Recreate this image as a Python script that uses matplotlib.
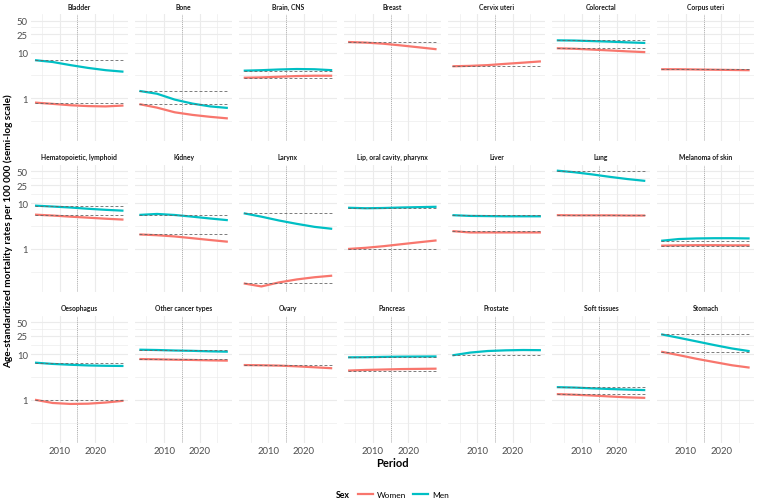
import matplotlib.pyplot as plt
import numpy as np
from matplotlib.lines import Line2D
from matplotlib.offsetbox import HPacker

plt.rcParams['font.family'] = ['Lato', 'DejaVu Sans']

# period points
years = [2003, 2008, 2013, 2018, 2023, 2028]
ref_year = 2015

# age-standardized rates, women / men (None = sex not concerned)
bladder_w = [0.80, 0.75, 0.70, 0.67, 0.66, 0.69]
bladder_m = [6.8, 6.2, 5.3, 4.6, 4.1, 3.8]
bone_w = [0.74, 0.62, 0.49, 0.43, 0.39, 0.36]
bone_m = [1.44, 1.25, 0.93, 0.76, 0.66, 0.61]
brain_w = [2.8, 2.85, 2.95, 3.05, 3.1, 3.1]
brain_m = [4.0, 4.1, 4.25, 4.35, 4.3, 4.1]
breast_w = [17.0, 16.5, 15.6, 14.3, 13.0, 11.8]
cervix_w = [5.0, 5.1, 5.3, 5.65, 6.0, 6.4]
colorectal_w = [12.4, 12.1, 11.6, 11.1, 10.6, 10.2]
colorectal_m = [18.5, 18.3, 17.8, 17.3, 16.7, 16.2]
corpus_w = [4.3, 4.3, 4.25, 4.2, 4.15, 4.1]
hemato_w = [5.65, 5.4, 5.1, 4.85, 4.6, 4.4]
hemato_m = [8.9, 8.5, 8.1, 7.6, 7.2, 6.9]
kidney_w = [2.08, 2.0, 1.88, 1.72, 1.57, 1.44]
kidney_m = [5.57, 5.85, 5.55, 5.1, 4.65, 4.27]
larynx_w = [0.176, 0.151, 0.185, 0.215, 0.24, 0.26]
larynx_m = [6.06, 5.1, 4.2, 3.55, 3.05, 2.76]
lip_w = [1.0, 1.06, 1.15, 1.27, 1.4, 1.54]
lip_m = [8.0, 7.8, 7.9, 8.1, 8.25, 8.4]
liver_w = [2.46, 2.3, 2.3, 2.3, 2.3, 2.3]
liver_m = [5.5, 5.3, 5.25, 5.2, 5.2, 5.2]
lung_w = [5.5, 5.45, 5.45, 5.45, 5.4, 5.4]
lung_m = [52, 48, 43, 38, 34, 31]
melanoma_w = [1.18, 1.2, 1.21, 1.21, 1.2, 1.2]
melanoma_m = [1.51, 1.65, 1.7, 1.72, 1.72, 1.70]
oesophagus_w = [1.0, 0.85, 0.81, 0.82, 0.87, 0.95]
oesophagus_m = [6.5, 6.1, 5.85, 5.65, 5.55, 5.5]
other_w = [7.8, 7.7, 7.55, 7.45, 7.3, 7.2]
other_m = [12.5, 12.3, 12.0, 11.8, 11.5, 11.3]
ovary_w = [5.76, 5.7, 5.6, 5.4, 5.15, 4.9]
pancreas_w = [4.36, 4.5, 4.6, 4.7, 4.75, 4.8]
pancreas_m = [8.5, 8.55, 8.7, 8.8, 8.85, 8.9]
prostate_m = [9.4, 10.8, 11.7, 12.1, 12.3, 12.2]
soft_w = [1.33, 1.29, 1.24, 1.18, 1.13, 1.1]
soft_m = [1.89, 1.85, 1.78, 1.72, 1.67, 1.63]
stomach_w = [11.3, 9.5, 7.9, 6.7, 5.7, 5.06]
stomach_m = [27.2, 22.8, 19.0, 15.8, 13.3, 11.6]

panels = [
    ('Bladder', bladder_w, bladder_m),
    ('Bone', bone_w, bone_m),
    ('Brain, CNS', brain_w, brain_m),
    ('Breast', breast_w, None),
    ('Cervix uteri', cervix_w, None),
    ('Colorectal', colorectal_w, colorectal_m),
    ('Corpus uteri', corpus_w, None),
    ('Hematopoietic, lymphoid', hemato_w, hemato_m),
    ('Kidney', kidney_w, kidney_m),
    ('Larynx', larynx_w, larynx_m),
    ('Lip, oral cavity, pharynx', lip_w, lip_m),
    ('Liver', liver_w, liver_m),
    ('Lung', lung_w, lung_m),
    ('Melanoma of skin', melanoma_w, melanoma_m),
    ('Oesophagus', oesophagus_w, oesophagus_m),
    ('Other cancer types', other_w, other_m),
    ('Ovary', ovary_w, None),
    ('Pancreas', pancreas_w, pancreas_m),
    ('Prostate', None, prostate_m),
    ('Soft tissues', soft_w, soft_m),
    ('Stomach', stomach_w, stomach_m),
]

col_w = '#F8766D'
col_m = '#00BFC4'
grid_col = '#EBEBEB'
tick_col = '#4D4D4D'

# shared log scale limits, ggplot-like 5% expansion
allv = np.concatenate([np.log10(v) for _, w, m in panels for v in (w, m) if v is not None])
lo, hi = allv.min(), allv.max()
pad = 0.05 * (hi - lo)
ylim = (10 ** (lo - pad), 10 ** (hi + pad))
xpad = 0.05 * (years[-1] - years[0])
xlim = (years[0] - xpad, years[-1] + xpad)

fig, axes = plt.subplots(3, 7, figsize=(7.64, 5.02), dpi=100, sharex=True, sharey=True)
fig.subplots_adjust(left=0.040, right=0.987, top=0.970, bottom=0.1155,
                    wspace=0.072, hspace=0.184)

for k, (name, w, m) in enumerate(panels):
    ax = axes[k // 7][k % 7]
    ax.set_yscale('log')
    ax.set_xlim(*xlim)
    ax.set_ylim(*ylim)
    ax.set_yticks([1, 10, 25, 50])
    ax.set_yticklabels(['1', '10', '25', '50'])
    ax.set_yticks([10 ** -0.5, 10 ** 0.5, 10 ** 1.199, 10 ** 1.549], minor=True)
    ax.set_yticklabels([], minor=True)
    ax.set_xticks([2010, 2020])
    ax.set_xticklabels(['2010', '2020'])
    ax.set_xticks([2005, 2015, 2025], minor=True)
    ax.grid(which='major', color=grid_col, linewidth=0.8)
    ax.grid(which='minor', color=grid_col, linewidth=0.45)
    ax.set_axisbelow(True)
    for s in ax.spines.values():
        s.set_visible(False)
    ax.tick_params(which='both', length=0, labelsize=6.8, colors=tick_col, pad=2)
    ax.set_title(name, fontsize=4.9, fontweight='bold', pad=4, color='#1A1A1A')

    ax.axvline(ref_year, color='#999999', linestyle=(0, (1, 1.5)), linewidth=0.6)
    for vals, c in ((w, col_w), (m, col_m)):
        if vals is None:
            continue
        ax.plot(years, vals, color=c, linewidth=1.6, solid_capstyle='butt')
    for vals in (w, m):
        if vals is None:
            continue
        ax.hlines(vals[0], years[0], years[-1], colors='#666666',
                  linestyles=(0, (3.5, 2.5)), linewidth=0.6)

fig.text(0.011, 0.54, 'Age-standardized mortality rates per 100 000 (semi-log scale)',
         rotation=90, ha='center', va='center', fontsize=7.2, fontweight='bold')
fig.supxlabel('Period', x=0.5135, y=0.065, fontsize=8, fontweight='bold')

handles = [Line2D([], [], color=col_w, linewidth=1.6),
           Line2D([], [], color=col_m, linewidth=1.6)]
leg = fig.legend(handles, ['Women', 'Men'], title='Sex', loc='center',
                 bbox_to_anchor=(0.5135, 0.013), ncol=2, frameon=False,
                 fontsize=6, title_fontproperties={'weight': 'bold', 'size': 6.3},
                 handlelength=1.8, columnspacing=0.8, handletextpad=0.5)
# place title to the left of the entries
box = leg._legend_box
box._children = [HPacker(children=box.get_children(), align='center', pad=0, sep=6)]

fig.savefig('out.png', dpi=100)
